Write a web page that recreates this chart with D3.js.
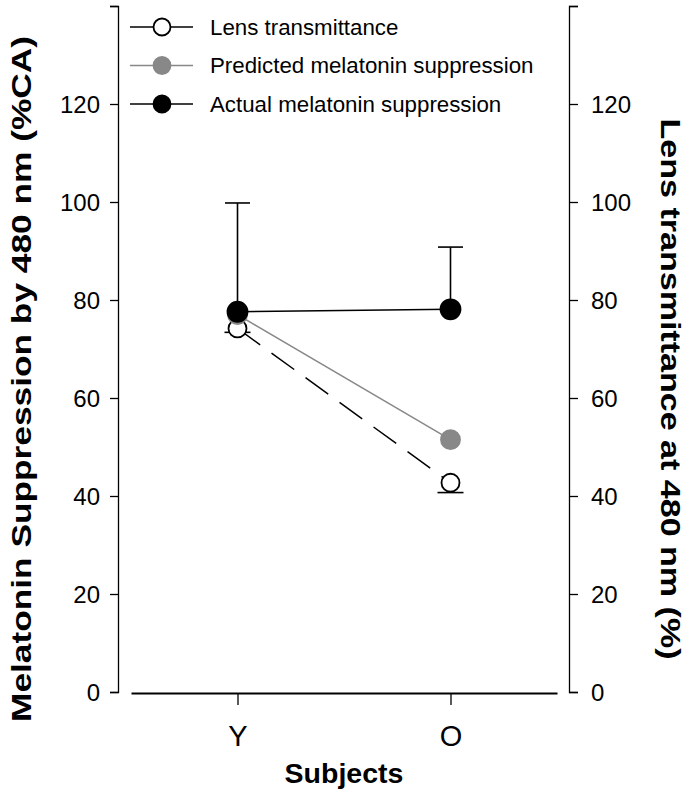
<!DOCTYPE html>
<html>
<head>
  <meta charset="UTF-8">
  <title>Melatonin suppression and lens transmittance</title>
  <script src="https://cdn.jsdelivr.net/npm/d3@7"></script>
  <style>
    body { margin: 0; background: #fff; }
    svg { display: block; font-family: "Liberation Sans", Arial, Helvetica, sans-serif; }
    .axis text { font-size: 24px; fill: #000; }
    .axis path, .axis line { stroke: #000; stroke-width: 1.3px; }
  </style>
</head>
<body>
<svg id="chart" width="692" height="798"></svg>
<script>
// data
const subjects = ['Y', 'O'];
const lensTransmittance = [74.2, 42.7];
const lensErrorLow = [73.4, 40.7];
const predictedSuppression = [77.0, 51.5];
const actualSuppression = [77.6, 78.1];
const actualErrorHigh = [99.8, 90.8];
const yTicks = [0, 20, 40, 60, 80, 100, 120, 140];
const legendLabels = ['Lens transmittance', 'Predicted melatonin suppression', 'Actual melatonin suppression'];

const svg = d3.select('#chart');

const y = d3.scaleLinear().domain([0, 140]).range([692, 6]);
const x = d3.scalePoint().domain(subjects).range([131, 557]).padding(0.5);

// left axis
svg.append('g')
  .attr('class', 'axis')
  .attr('transform', 'translate(118,0)')
  .call(d3.axisLeft(y).tickValues(yTicks).tickSize(8).tickPadding(10)
    .tickFormat(d => d === 140 ? '' : d));

// right axis
svg.append('g')
  .attr('class', 'axis')
  .attr('transform', 'translate(569,0)')
  .call(d3.axisRight(y).tickValues(yTicks).tickSize(9).tickPadding(13)
    .tickFormat(d => d === 140 ? '' : d));

svg.selectAll('.axis .tick text').attr('dy', '0.36em');

// bottom axis
const bottom = svg.append('g')
  .attr('class', 'axis')
  .attr('transform', 'translate(0,693)')
  .call(d3.axisBottom(x).tickSize(12).tickSizeOuter(0).tickPadding(20));
bottom.select('.domain').style('stroke-width', '2.2px');
bottom.selectAll('.tick text').style('font-size', '29px');

// titles (the original lettering is wider than the font, so stretch it)
svg.append('text')
  .attr('transform', 'translate(31,379) rotate(-90)')
  .attr('text-anchor', 'middle')
  .attr('textLength', 686)
  .attr('lengthAdjust', 'spacingAndGlyphs')
  .style('font-weight', 'bold')
  .style('font-size', '27px')
  .text('Melatonin Suppression by 480 nm (%CA)');

svg.append('text')
  .attr('transform', 'translate(661,389) rotate(90)')
  .attr('text-anchor', 'middle')
  .attr('textLength', 541)
  .attr('lengthAdjust', 'spacingAndGlyphs')
  .style('font-weight', 'bold')
  .style('font-size', '27px')
  .text('Lens transmittance at 480 nm (%)');

svg.append('text')
  .attr('x', 344)
  .attr('y', 783)
  .attr('text-anchor', 'middle')
  .style('font-weight', 'bold')
  .style('font-size', '28.5px')
  .text('Subjects');

// error bars
function errorBars(values, ends, half) {
  const g = svg.append('g').attr('stroke', '#000').attr('stroke-width', 1.6);
  subjects.forEach((s, i) => {
    g.append('line')
      .attr('x1', x(s)).attr('x2', x(s))
      .attr('y1', y(values[i])).attr('y2', y(ends[i]));
    g.append('line')
      .attr('x1', x(s) - half).attr('x2', x(s) + half)
      .attr('y1', y(ends[i])).attr('y2', y(ends[i]));
  });
}
errorBars(lensTransmittance, lensErrorLow, 13);
errorBars(actualSuppression, actualErrorHigh, 12.5);

// lines
const line = d3.line().x((d, i) => x(subjects[i])).y(d => y(d));

svg.append('path')
  .datum(lensTransmittance)
  .attr('d', line)
  .attr('fill', 'none')
  .attr('stroke', '#000')
  .attr('stroke-width', 1.5)
  .attr('stroke-dasharray', '28,14');

svg.append('path')
  .datum(predictedSuppression)
  .attr('d', line)
  .attr('fill', 'none')
  .attr('stroke', '#888')
  .attr('stroke-width', 1.5);

svg.append('path')
  .datum(actualSuppression)
  .attr('d', line)
  .attr('fill', 'none')
  .attr('stroke', '#000')
  .attr('stroke-width', 1.5);

// markers
function markers(values, fill, stroke, r) {
  svg.append('g').selectAll('circle').data(values).enter()
    .append('circle')
      .attr('cx', (d, i) => x(subjects[i]))
      .attr('cy', d => y(d))
      .attr('r', r)
      .attr('fill', fill)
      .attr('stroke', stroke)
      .attr('stroke-width', 1.8);
}
markers(lensTransmittance, '#fff', '#000', 9);
markers(predictedSuppression, '#888', '#888', 9.5);
markers(actualSuppression, '#000', '#000', 10);

// legend
const legendStyles = [
  { fill: '#fff', stroke: '#000' },
  { fill: '#888', stroke: '#888' },
  { fill: '#000', stroke: '#000' }
];
const legend = svg.append('g').selectAll('g').data(legendLabels).enter()
  .append('g')
    .attr('transform', (d, i) => `translate(0,${27 + i * 38.5})`);

legend.append('line')
  .attr('x1', 130).attr('x2', 193)
  .attr('stroke', (d, i) => legendStyles[i].stroke)
  .attr('stroke-width', 1.5);
legend.append('circle')
  .attr('cx', 162).attr('r', 8.5)
  .attr('fill', (d, i) => legendStyles[i].fill)
  .attr('stroke', (d, i) => legendStyles[i].stroke)
  .attr('stroke-width', 1.8);
legend.append('text')
  .attr('x', 210)
  .attr('dy', '0.35em')
  .style('font-size', '22.3px')
  .text(d => d);
</script>
</body>
</html>
